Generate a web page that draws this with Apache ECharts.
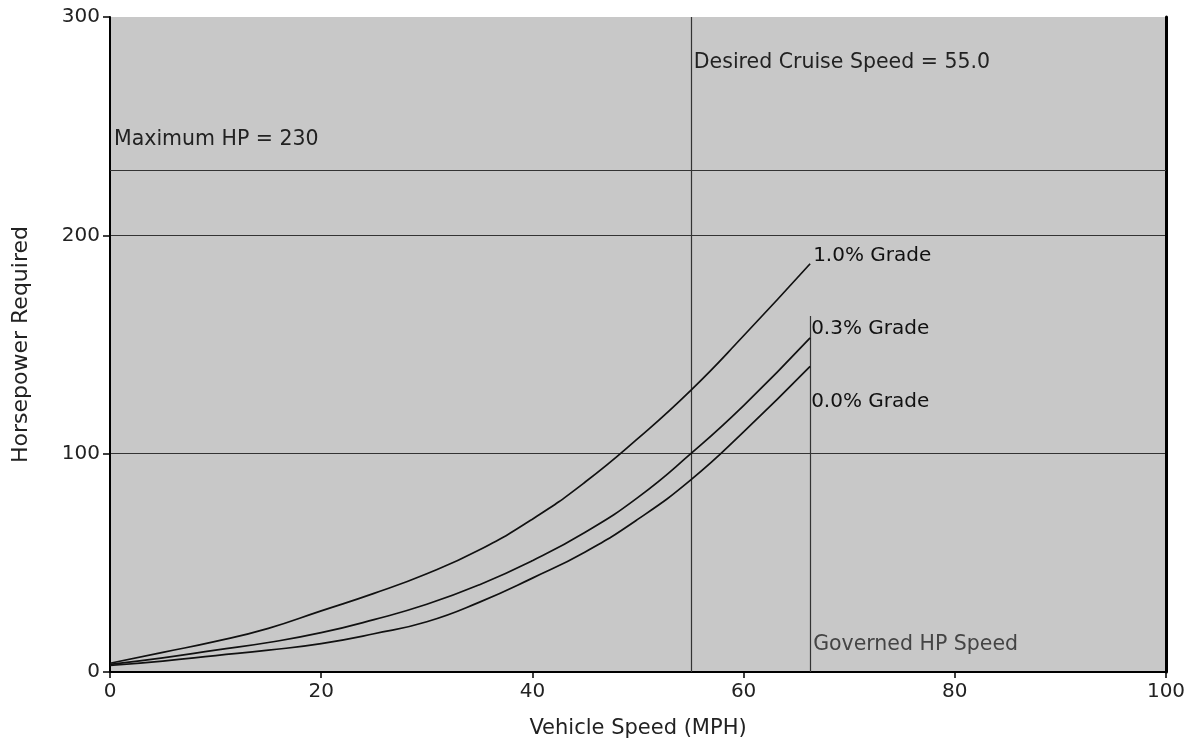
<!DOCTYPE html>
<html>
<head>
<meta charset="utf-8">
<script src="https://cdn.jsdelivr.net/npm/echarts@6/dist/echarts.min.js"></script>
<style>
html,body{margin:0;padding:0;background:#fff;}
#c{width:1191px;height:750px;}
</style>
</head>
<body>
<div id="c"></div>
<script>
// Speeds (MPH)
const speeds = [0, 5, 10, 15, 20, 25, 30, 35, 40, 45, 50, 55, 60, 66.3];
// Horsepower required per grade
const hpGrade00 = [3, 5, 7.5, 10, 13, 17.5, 23, 32, 43, 55, 70, 88, 110, 140];
const hpGrade03 = [3.5, 6.5, 10, 13.5, 18, 24, 31, 40, 51, 64, 80, 100, 122, 153];
const hpGrade10 = [4, 9, 14, 20, 28, 36, 45, 56, 70, 87, 107, 129, 154, 187];
const gradeNames = ['0.0% Grade', '0.3% Grade', '1.0% Grade'];
// Reference values
const maxHP = 230;
const cruiseSpeed = 55.0;
const governedSpeed = 66.3;
const governedLineTop = 163;
const xTicks = [0, 20, 40, 60, 80, 100];
const yTicks = [0, 100, 200, 300];

const font = '"DejaVu Sans", "Liberation Sans", Arial, sans-serif';
const pairs = (ys) => speeds.map((s, i) => [s, ys[i]]);

const chart = echarts.init(document.getElementById('c'), null, {renderer: 'canvas'});

function gradeSeries(name, ys, offset) {
  return {
    name: name, type: 'line', data: pairs(ys), smooth: 0.5, showSymbol: false,
    lineStyle: {color: '#111', width: 1.7},
    endLabel: {show: true, formatter: name, color: '#111', fontFamily: font, fontSize: 20,
      offset: offset, align: 'left', distance: 0},
    z: 5
  };
}

const option = {
  animation: false,
  backgroundColor: '#ffffff',
  grid: {left: 110, right: 25, top: 17, bottom: 78, show: true, backgroundColor: '#c8c8c8', borderWidth: 0,
    containLabel: false, outerBoundsMode: 'none'},
  xAxis: {
    type: 'value', min: xTicks[0], max: xTicks[xTicks.length - 1], interval: 20,
    name: 'Vehicle Speed (MPH)', nameLocation: 'middle', nameGap: 46,
    nameTextStyle: {fontFamily: font, fontSize: 21, color: '#222'},
    axisLine: {show: true, lineStyle: {color: '#000', width: 2}},
    axisTick: {show: true, length: 6, lineStyle: {color: '#000', width: 1.5}},
    axisLabel: {fontFamily: font, fontSize: 20, color: '#222', margin: 10},
    splitLine: {show: false}
  },
  yAxis: [{
    type: 'value', min: yTicks[0], max: yTicks[yTicks.length - 1], interval: 100,
    name: 'Horsepower Required', nameLocation: 'middle', nameGap: 78, nameRotate: 90,
    nameTextStyle: {fontFamily: font, fontSize: 22, color: '#222'},
    axisLine: {show: true, lineStyle: {color: '#000', width: 2}},
    axisTick: {show: true, length: 7, lineStyle: {color: '#000', width: 1.5}},
    axisLabel: {fontFamily: font, fontSize: 20, color: '#222', margin: 10},
    splitLine: {show: true, showMaxLine: false, showMinLine: false, lineStyle: {color: '#333', width: 1}}
  }, {
    type: 'value', min: yTicks[0], max: yTicks[yTicks.length - 1], interval: 100, position: 'right',
    axisLine: {show: true, lineStyle: {color: '#000', width: 3}},
    axisTick: {show: false}, axisLabel: {show: false}, splitLine: {show: false}
  }],
  series: [
    gradeSeries(gradeNames[2], hpGrade10, [3, -8]),
    gradeSeries(gradeNames[1], hpGrade03, [1, -9]),
    gradeSeries(gradeNames[0], hpGrade00, [1, 35]),
    {
      type: 'line', data: [], silent: true,
      markLine: {
        symbol: 'none', silent: true, animation: false,
        lineStyle: {color: '#333', width: 1.2, type: 'solid'},
        label: {show: false},
        data: [
          {yAxis: maxHP},
          {xAxis: cruiseSpeed},
          [{coord: [governedSpeed, 0]}, {coord: [governedSpeed, governedLineTop]}]
        ]
      },
      markPoint: {
        symbol: 'circle', symbolSize: 0, silent: true,
        label: {show: true, position: 'right', distance: 3, color: '#222', fontFamily: font, fontSize: 20.5},
        data: [
          {coord: [cruiseSpeed, 279], label: {formatter: 'Desired Cruise Speed = ' + cruiseSpeed.toFixed(1)}},
          {coord: [0, 244], label: {formatter: 'Maximum HP = ' + maxHP, distance: 4}},
          {coord: [governedSpeed, 12.3], label: {formatter: 'Governed HP Speed', color: '#444'}}
        ]
      }
    }
  ]
};
chart.setOption(option);
</script>
</body>
</html>
